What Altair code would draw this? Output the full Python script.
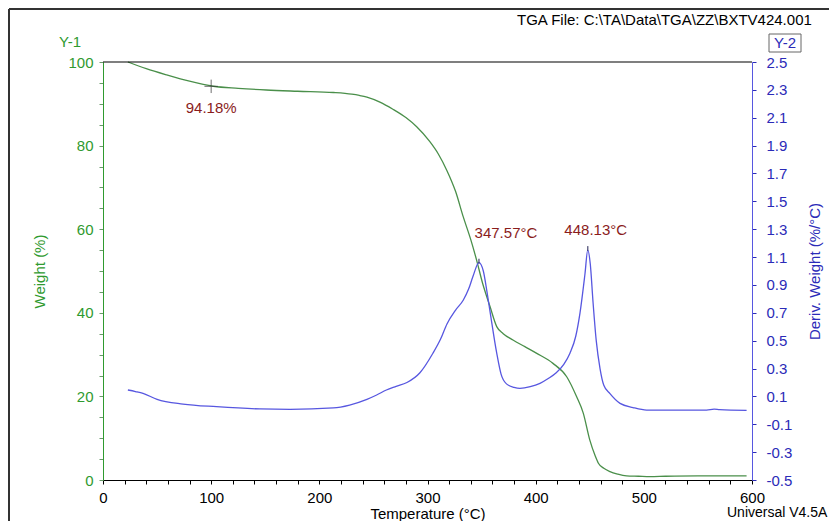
import altair as alt
import pandas as pd

# ---- data ----
tga_T = [23, 40, 59, 80, 102, 125, 151, 180, 213, 230, 237, 244, 256, 268, 280, 290, 302,
         310, 318, 326, 333, 340, 345.4, 351, 357.8, 364, 370, 379, 390, 401, 416,
         428.7, 437.9, 444, 450, 455, 458, 463, 468.7, 476, 484, 495, 505.7, 520, 550, 575, 595]
tga_W = [100, 98.4, 96.9, 95.4, 94.2, 93.7, 93.3, 93.0, 92.7, 92.3, 92.0, 91.6, 90.4, 88.7, 86.7, 84.5, 81.0,
         78.0, 74.0, 69.0, 63.0, 57.5, 52.6, 47.0, 41.5, 36.7, 35.0, 33.5, 31.9, 30.3, 27.9,
         24.7, 19.9, 16.0, 9.6, 5.8, 4.0, 2.8, 2.0, 1.4, 1.0, 0.9, 0.8, 0.9, 1.0, 1.0, 1.0]

dtg_T = [23, 30, 37, 50, 74, 105, 145, 173, 213, 228, 244, 253, 262, 271, 281, 293, 305,
         312, 318, 326, 333, 338, 342, 347.57, 351.6, 355, 358, 364, 368, 373, 380,
         385.5, 395, 404, 412, 419, 426, 431.7, 437, 441, 445.6, 448.13, 450.5, 453,
         456, 459.5, 463, 468.7, 478, 490, 502.6, 530, 558, 565, 570, 595]
dtg_D = [0.146, 0.135, 0.122, 0.079, 0.045, 0.026, 0.010, 0.007, 0.017, 0.038, 0.079, 0.11,
         0.146, 0.172, 0.20, 0.27, 0.41, 0.51, 0.62, 0.72, 0.79, 0.87, 0.96, 1.06, 1.0, 0.85, 0.70,
         0.41, 0.26, 0.19, 0.165, 0.158, 0.17, 0.194, 0.23, 0.27, 0.33, 0.41, 0.53, 0.70,
         0.98, 1.15, 1.05, 0.78, 0.50, 0.30, 0.18, 0.12, 0.05, 0.02, 0.002, 0.002, 0.002,
         0.008, 0.005, 0.0]

mass_anno_T = [100]
mass_anno_W = [94.18]
mass_anno_txt = ["94.18%"]

peak_T = [347.57, 448.13]
peak_D = [1.06, 1.15]
peak_txt = ["347.57°C", "448.13°C"]

x_ticks = list(range(0, 601, 20))
y1_ticks = list(range(0, 101, 5))
y2_ticks = [-0.5, -0.3, -0.1, 0.1, 0.3, 0.5, 0.7, 0.9, 1.1, 1.3, 1.5, 1.7, 1.9, 2.1, 2.3, 2.5]

FONT = "Liberation Sans"
GREEN_LINE = "#4a8f4a"
GREEN_TXT = "#2f9a2f"
BLUE_LINE = "#5757e0"
BLUE_TXT = "#2b2bb8"
RED_TXT = "#8a1c1c"

W, H = 649, 418

tga = pd.DataFrame({"T": tga_T, "W": tga_W})
dtg = pd.DataFrame({"T": dtg_T, "D": dtg_D})
manno = pd.DataFrame({"T": mass_anno_T, "W": mass_anno_W, "txt": mass_anno_txt})
panno = pd.DataFrame({"T": peak_T, "D": peak_D, "txt": peak_txt})

x_axis = alt.Axis(values=x_ticks, labelExpr="datum.value % 100 === 0 ? datum.label : ''",
                  tickSize=4, tickColor="black", domainColor="black", labelColor="black",
                  labelFont=FONT, labelFontSize=15, labelPadding=6, labelFlush=False,
                  labelOverlap=False, grid=False,
                  title="Temperature (°C)", titleFont=FONT, titleFontSize=15,
                  titleFontWeight="normal", titleColor="black",
                  titleX=W / 2, titleY=33, titleBaseline="middle", titleAlign="center")


def xenc():
    return alt.X("T:Q", scale=alt.Scale(domain=[0, 600], nice=False, zero=False), axis=x_axis)


y1_axis = alt.Axis(values=y1_ticks, labelExpr="datum.value % 20 === 0 ? datum.label : ''",
                   orient="left", tickSize=4, tickColor="#6a9a6a", domainColor=GREEN_TXT,
                   labelColor=GREEN_TXT, labelFont=FONT, labelFontSize=15, labelPadding=6,
                   labelFlush=False, labelOverlap=False, grid=False,
                   title="Weight (%)", titleFont=FONT, titleFontSize=15, titleFontWeight="normal",
                   titleColor=GREEN_TXT, titleAngle=270, titleX=-64, titleY=H / 2,
                   titleBaseline="middle", titleAlign="center")


def y1enc(field="W"):
    return alt.Y(f"{field}:Q", scale=alt.Scale(domain=[0, 100], nice=False, zero=False), axis=y1_axis)


y2_axis = alt.Axis(values=y2_ticks, labelExpr="replace(format(datum.value, '.1f'), '\u2212', '-')",
                   orient="right", tickSize=4, tickColor=BLUE_TXT,
                   domainColor=BLUE_LINE, labelColor=BLUE_TXT, labelFont=FONT, labelFontSize=15,
                   labelPadding=10, labelFlush=False, labelOverlap=False, grid=False,
                   title="Deriv. Weight (%/°C)", titleFont=FONT, titleFontSize=15,
                   titleFontWeight="normal", titleColor=BLUE_TXT, titleAngle=270,
                   titleX=62, titleY=H / 2, titleBaseline="middle", titleAlign="center")


def y2enc(field="D"):
    return alt.Y(f"{field}:Q", scale=alt.Scale(domain=[-0.5, 2.5], nice=False, zero=False), axis=y2_axis)


# ---- left (weight) layer ----
tga_line = alt.Chart(tga).mark_line(color=GREEN_LINE, strokeWidth=1.3, interpolate="monotone").encode(
    x=xenc(), y=y1enc())
mass_mark = alt.Chart(manno).mark_point(shape="M-1,0L1,0M0,-1L0,1", size=180, filled=False,
                                        color="#333333", strokeWidth=1).encode(x=xenc(), y=y1enc())
mass_txt = alt.Chart(manno).mark_text(font=FONT, fontSize=15, color=RED_TXT, dy=22, dx=0,
                                      baseline="middle", align="center").encode(
    x=xenc(), y=y1enc(), text="txt:N")
left = alt.layer(tga_line, mass_mark, mass_txt)

# ---- right (derivative) layer ----
dtg_line = alt.Chart(dtg).mark_line(color=BLUE_LINE, strokeWidth=1.3, interpolate="monotone").encode(
    x=xenc(), y=y2enc())
peak_mark = alt.Chart(panno).mark_point(shape="M0,-1L0,0.2", size=64, filled=False,
                                        color="#2a2a5a", strokeWidth=1.5).encode(x=xenc(), y=y2enc())
peak_txt1 = alt.Chart(panno).transform_filter("datum.T < 400").mark_text(
    font=FONT, fontSize=15, color=RED_TXT, baseline="middle", align="center", dx=27, dy=-30).encode(
    x=xenc(), y=y2enc(), text="txt:N")
peak_txt2 = alt.Chart(panno).transform_filter("datum.T >= 400").mark_text(
    font=FONT, fontSize=15, color=RED_TXT, baseline="middle", align="center", dx=8, dy=-20).encode(
    x=xenc(), y=y2enc(), text="txt:N")
right = alt.layer(dtg_line, peak_mark, peak_txt1, peak_txt2)

# ---- decorations (frame, headers) ----
one = alt.Data(values=[{"a": 1}])
top_line = alt.Chart(one).mark_rule(color="black", strokeWidth=1.2).encode(
    x=alt.value(0), x2=alt.value(W), y=alt.value(0))
frame_left = alt.Chart(one).mark_rule(color="#333333", strokeWidth=2).encode(
    x=alt.value(-94), y=alt.value(-53), y2=alt.value(H + 45))
frame_top = alt.Chart(one).mark_rule(color="#333333", strokeWidth=2).encode(
    x=alt.value(-94), x2=alt.value(W + 80), y=alt.value(-53))

hdr_left = alt.Data(values=[
    {"t": "TGA File: C:\\TA\\Data\\TGA\\ZZ\\BXTV424.001", "x": 414, "y": -42, "c": "black", "s": 15},
    {"t": "Universal V4.5A", "x": 624, "y": H + 33, "c": "black", "s": 14},
])
hdr_center = alt.Data(values=[
    {"t": "Y-1", "x": -33, "y": -20, "c": GREEN_TXT},
    {"t": "Y-2", "x": 682, "y": -19, "c": BLUE_TXT},
])
hdr_text1 = alt.Chart(hdr_left).mark_text(font=FONT, baseline="middle", align="left").encode(
    x=alt.X("x:Q", scale=None), y=alt.Y("y:Q", scale=None), text="t:N",
    color=alt.Color("c:N", scale=None), size=alt.Size("s:Q", scale=None))
hdr_text2 = alt.Chart(hdr_center).mark_text(font=FONT, fontSize=15, baseline="middle", align="center").encode(
    x=alt.X("x:Q", scale=None), y=alt.Y("y:Q", scale=None), text="t:N",
    color=alt.Color("c:N", scale=None))
y2_box = alt.Chart(one).mark_rect(fill="white", fillOpacity=0, stroke="#666666", strokeWidth=1).encode(
    x=alt.value(666), x2=alt.value(698), y=alt.value(-28), y2=alt.value(-10))

chart = alt.layer(left, right, top_line, frame_left, frame_top, y2_box, hdr_text1, hdr_text2).resolve_scale(
    y="independent"
).properties(
    width=W, height=H,
    autosize=alt.AutoSizeParams(type="none"),
    padding={"left": 95, "top": 54, "right": 77, "bottom": 41},
    background="white",
).configure_view(stroke=None)

chart.save("out.html", embed_options={"renderer": "svg", "actions": False})
